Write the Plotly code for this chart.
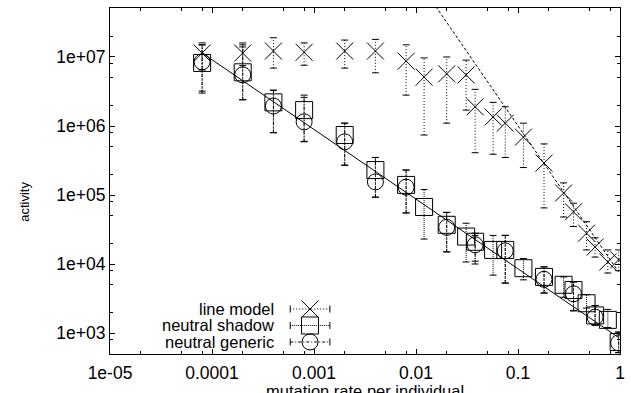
import plotly.graph_objects as go

# ---------------- data ----------------
rate = [8.0e-5, 2.0e-4, 4.0e-4, 8.0e-4, 2.0e-3, 4.0e-3, 8.0e-3, 0.012, 0.02, 0.031,
        0.038, 0.057, 0.075, 0.113, 0.18, 0.28, 0.35, 0.47, 0.57, 0.76, 0.97]

line_model = [1.14e7, 1.14e7, 1.22e7, 1.17e7, 1.22e7, 1.22e7, 8.7e6, 5.1e6, 5.7e6, 5.5e6,
              1.9e6, 1.35e6, 1.1e6, 6.9e5, 2.9e5, 1.07e5, 5.7e4, 2.8e4, 1.76e4, 1.07e4, 1.15e4]
line_model_hi = [1.6e7, 1.6e7, 1.9e7, 1.6e7, 1.76e7, 1.8e7, 1.5e7, 9.7e6, 1.0e7, 9.0e6,
                 3.4e6, 2.2e6, 1.9e6, 1.1e6, 5.5e5, 1.5e5, 7.6e4, 4.1e4, 2.4e4, 1.6e4, 1.6e4]
line_model_lo = [6.5e6, 7.5e6, 6.9e6, 7.6e6, 6.9e6, 5.9e6, 2.8e6, 7.4e5, 1.1e6, 1.7e6,
                 4.1e5, 3.9e5, 3.5e5, 2.5e5, 6.5e4, 4.8e4, 3.5e4, 1.6e4, 1.26e4, 7.4e3, 8.0e3]

shadow = [8.2e6, 6.0e6, 2.2e6, 1.7e6, 7.4e5, 2.3e5, 1.4e5, 6.7e4, 3.7e4, 2.5e4,
          2.1e4, 1.6e4, 1.6e4, 8.7e3, 6.5e3, 5.0e3, 4.2e3, 2.7e3, 1.8e3, 1.55e3, 7.4e2]
shadow_hi = [1.5e7, 1.5e7, 3.3e6, 2.8e6, 1.1e6, 3.5e5, 2.3e5, 1.2e5, 5.6e4, 3.9e4,
             2.8e4, 2.6e4, 2.6e4, 1.2e4, 9.1e3, 6.5e3, 5.5e3, 3.6e3, 2.5e3, 2.2e3, 1.03e3]
shadow_lo = [3.2e6, 2.4e6, 8.0e5, 6.0e5, 2.7e5, 9.3e4, 5.5e4, 2.3e4, 1.5e4, 1.07e4,
             1.1e4, 6.9e3, 5.3e3, 5.9e3, 3.8e3, 3.3e3, 2.1e3, 2.3e3, 1.3e3, 1.2e3, 5.2e2]

generic_rate = [8.0e-5, 2.0e-4, 4.0e-4, 8.0e-4, 2.0e-3, 4.0e-3, 8.0e-3, 0.02, 0.038,
                0.075, 0.18, 0.35, 0.57, 0.97]
generic = [8.5e6, 5.5e6, 1.95e6, 1.15e6, 5.9e5, 1.55e5, 1.3e5, 3.4e4, 1.9e4,
           1.55e4, 6.0e3, 3.7e3, 1.7e3, 7.2e2]
generic_hi = [1.5e7, 1.4e7, 3.3e6, 2.6e6, 1.1e6, 3.5e5, 2.3e5, 5.6e4, 2.6e4,
              2.6e4, 9.1e3, 5.5e3, 2.5e3, 1.03e3]
generic_lo = [3.0e6, 2.4e6, 8.0e5, 5.9e5, 2.7e5, 9.3e4, 5.5e4, 1.5e4, 1.0e4,
              5.3e3, 3.8e3, 2.1e3, 1.3e3, 5.2e2]

# power-law fits  y = amp * x**expo
neutral_fit_amp, neutral_fit_expo = 832.0, -1.01
neutral_fit_x = [8.0e-5, 0.97]
line_fit_amp, line_fit_expo = 7200.0, -2.145
line_fit_x = [0.01, 0.97]

x_ticks = [1e-5, 1e-4, 1e-3, 1e-2, 1e-1, 1]
x_ticktext = ["1e-05", "0.0001", "0.001", "0.01", "0.1", "1"]
y_ticks = [1e3, 1e4, 1e5, 1e6, 1e7]
y_ticktext = ["1e+03", "1e+04", "1e+05", "1e+06", "1e+07"]
minor_mult = [2, 5, 8]

legend_labels = ["line model", "neutral shadow", "neutral generic"]

# ---------------- styles ----------------
FONT = "Liberation Sans, Arial, sans-serif"
FS = 16.5
TFS = 17.5
BLACK = "black"


def bar_path(x, lo, hi):
    xs, ys = [], []
    for xi, l, h in zip(x, lo, hi):
        xs += [xi, xi, None]
        ys += [l, h, None]
    return xs, ys


fig = go.Figure()

series = [
    (rate, line_model, line_model_lo, line_model_hi, "x-thin-open", 17, "1px,2px"),
    (rate, shadow, shadow_lo, shadow_hi, "square-open", 17, "1px,1px"),
    (generic_rate, generic, generic_lo, generic_hi, "circle-open", 16, "3px,2px,1px,2px"),
]

for xs_, ys_, lo, hi, sym, size, dash in series:
    bx, by = bar_path(xs_, lo, hi)
    fig.add_trace(go.Scatter(x=bx, y=by, mode="lines",
                             line=dict(color=BLACK, width=1, dash=dash),
                             hoverinfo="skip", showlegend=False))
    fig.add_trace(go.Scatter(x=list(xs_) + list(xs_), y=list(lo) + list(hi), mode="markers",
                             marker=dict(symbol="line-ew-open", size=5, color=BLACK,
                                         line=dict(color=BLACK, width=1)),
                             hoverinfo="skip", showlegend=False))

# fit lines
fig.add_trace(go.Scatter(x=neutral_fit_x,
                         y=[neutral_fit_amp * v ** neutral_fit_expo for v in neutral_fit_x],
                         mode="lines", line=dict(color=BLACK, width=1), showlegend=False))
fig.add_trace(go.Scatter(x=line_fit_x,
                         y=[line_fit_amp * v ** line_fit_expo for v in line_fit_x],
                         mode="lines", line=dict(color=BLACK, width=1, dash="3px,2px"),
                         showlegend=False))

for xs_, ys_, lo, hi, sym, size, dash in series:
    fig.add_trace(go.Scatter(x=xs_, y=ys_, mode="markers",
                             marker=dict(symbol=sym, size=size, color=BLACK,
                                         line=dict(color=BLACK, width=1)),
                             showlegend=False))

# ---------------- manual legend (overlay axes spanning the plot area) ----------------
leg_rows = [0.130, 0.0824, 0.0347]
leg_x0, leg_x1, leg_xm, leg_text_x = 0.3534, 0.4311, 0.3922, 0.3262
for (xs_, ys_, lo, hi, sym, size, dash), yy, lab in zip(series, leg_rows, legend_labels):
    fig.add_trace(go.Scatter(x=[leg_x0, leg_x1], y=[yy, yy], mode="lines",
                             line=dict(color=BLACK, width=1, dash=dash),
                             xaxis="x2", yaxis="y2", showlegend=False, hoverinfo="skip"))
    fig.add_trace(go.Scatter(x=[leg_x0, leg_x1], y=[yy, yy], mode="markers",
                             marker=dict(symbol="line-ns-open", size=5, color=BLACK,
                                         line=dict(color=BLACK, width=1)),
                             xaxis="x2", yaxis="y2", showlegend=False, hoverinfo="skip"))
    fig.add_trace(go.Scatter(x=[leg_xm], y=[yy], mode="markers",
                             marker=dict(symbol=sym, size=size, color=BLACK,
                                         line=dict(color=BLACK, width=1)),
                             xaxis="x2", yaxis="y2", showlegend=False, hoverinfo="skip"))
    fig.add_annotation(x=leg_text_x, y=yy, xref="paper", yref="paper", text=lab,
                       showarrow=False, xanchor="right", yanchor="middle",
                       font=dict(family=FONT, size=FS, color=BLACK))

minor_x = [m * 10 ** d for d in range(-5, 0) for m in minor_mult]
minor_y = [m * 10 ** d for d in range(2, 8) for m in minor_mult]

axis_common = dict(showgrid=False, zeroline=False, showline=True, linecolor=BLACK,
                   linewidth=1, mirror="allticks", ticks="inside", ticklen=5,
                   tickcolor=BLACK, tickwidth=1,
                   tickfont=dict(family=FONT, size=TFS, color=BLACK))

fig.update_layout(
    width=631, height=393,
    margin=dict(l=110, r=6, t=8, b=39),
    paper_bgcolor="white", plot_bgcolor="white",
    showlegend=False,
    xaxis=dict(type="log", range=[-5.0, 0.0], tickmode="array", tickvals=x_ticks,
               ticktext=x_ticktext, ticklabelstandoff=3,
               minor=dict(tickmode="array", tickvals=minor_x, ticks="inside", ticklen=3,
                          tickcolor=BLACK, tickwidth=1),
               **axis_common),
    yaxis=dict(type="log", range=[2.696, 7.71], tickmode="array", tickvals=y_ticks,
               ticktext=y_ticktext, ticklabelstandoff=0,
               minor=dict(tickmode="array", tickvals=minor_y, ticks="inside", ticklen=3,
                          tickcolor=BLACK, tickwidth=1),
               **axis_common),
    xaxis2=dict(overlaying="x", anchor="y2", range=[0, 1], visible=False, fixedrange=True),
    yaxis2=dict(overlaying="y", anchor="x2", range=[0, 1], visible=False, fixedrange=True),
)

fig.add_annotation(text="mutation rate per individual", x=0.5, y=-0.074, xref="paper",
                   yref="paper", showarrow=False, xanchor="center", yanchor="top",
                   font=dict(family=FONT, size=FS, color=BLACK))
fig.add_annotation(text="activity", x=0, xshift=-85, y=0.44, xref="paper", yref="paper",
                   showarrow=False, textangle=-90, xanchor="center", yanchor="middle",
                   font=dict(family=FONT, size=13, color=BLACK))

fig.write_html("out.html")
